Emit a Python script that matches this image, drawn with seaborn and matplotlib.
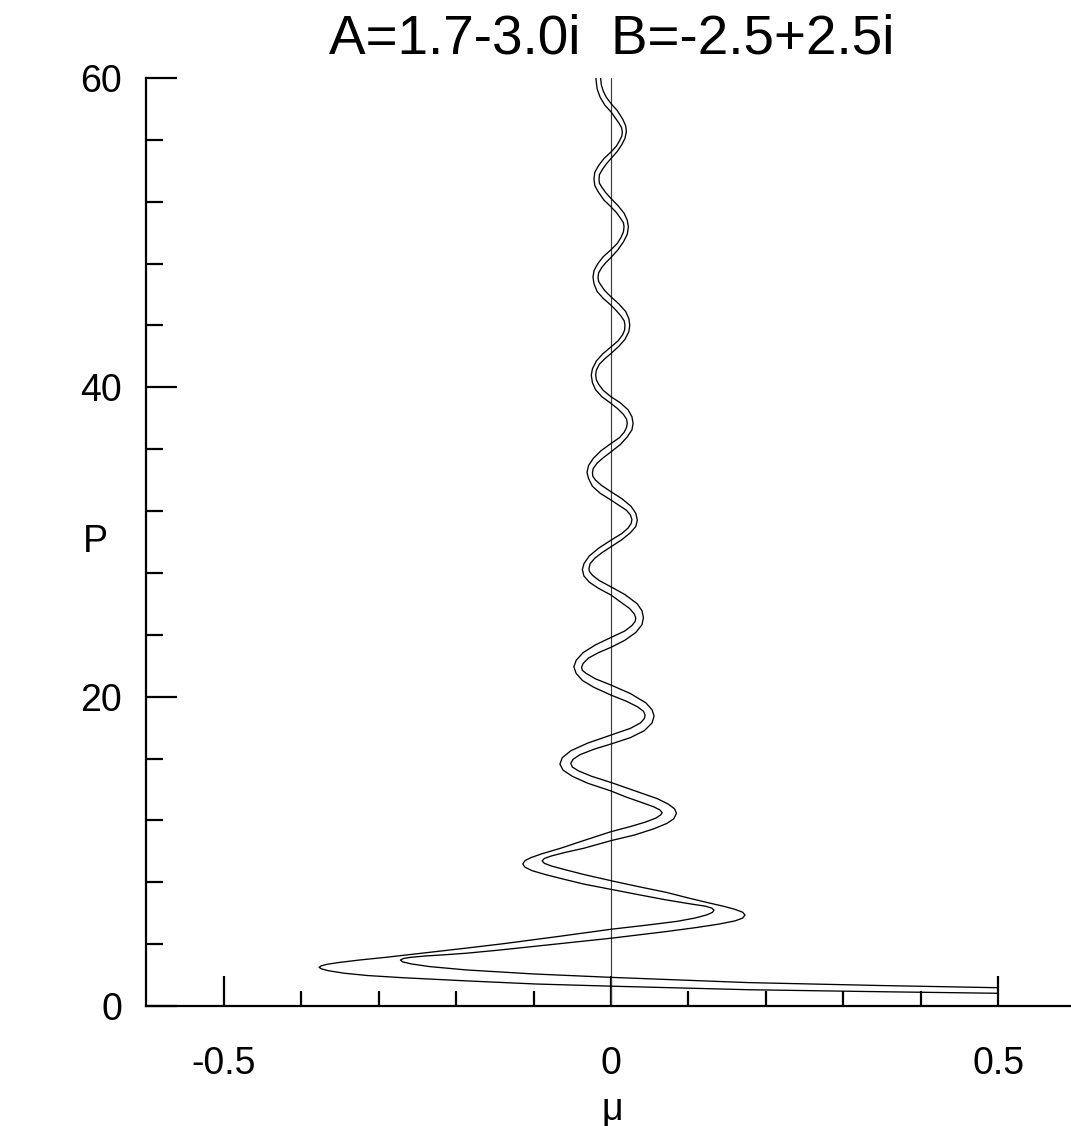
import matplotlib
matplotlib.use("Agg")
import matplotlib.pyplot as plt
import numpy as np
import pandas as pd
import seaborn as sns
from matplotlib.ticker import FixedLocator, FixedFormatter

# ---------------- data ----------------
title_text = "A=1.7-3.0i  B=-2.5+2.5i"
x_label = "\u03bc"
y_label = "P"

x_major = [-0.5, 0.0, 0.5]
x_major_labels = ["-0.5", "0", "0.5"]
x_minor = [-0.4, -0.3, -0.2, -0.1, 0.1, 0.2, 0.3, 0.4]
y_major = [0, 20, 40, 60]
y_major_labels = ["0", "20", "40", "60"]
y_minor = [4, 8, 12, 16, 24, 28, 32, 36, 44, 48, 52, 56]

# curve A
mu_a = [0.500, 0.350, 0.178, 0.000, -0.097, -0.186, -0.270, -0.315, -0.345, -0.365,
        -0.374, -0.377, -0.374, -0.366, -0.350, -0.325, -0.290, -0.250, -0.187, -0.140,
        -0.070, 0.000, 0.050, 0.085, 0.108, 0.123, 0.131, 0.133, 0.130, 0.122,
        0.100, 0.071, 0.035, 0.000, -0.035, -0.063, -0.085, -0.102, -0.111, -0.114,
        -0.111, -0.104, -0.090, -0.065, -0.035, 0.000, 0.025, 0.045, 0.058, 0.064,
        0.066, 0.063, 0.055, 0.040, 0.020, 0.000, -0.030, -0.050, -0.062, -0.066,
        -0.063, -0.052, -0.030, 0.000, 0.025, 0.038, 0.043, 0.044, 0.042, 0.034,
        0.020, 0.000, -0.022, -0.037, -0.045, -0.048, -0.045, -0.036, -0.020, 0.000,
        0.018, 0.027, 0.031, 0.032, 0.030, 0.024, 0.013, 0.000, -0.016, -0.028,
        -0.035, -0.037, -0.035, -0.028, -0.016, 0.000, 0.014, 0.022, 0.026, 0.027,
        0.025, 0.020, 0.011, 0.000, -0.014, -0.024, -0.029, -0.031, -0.029, -0.023,
        -0.013, 0.000, 0.011, 0.017, 0.020, 0.021, 0.020, 0.016, 0.009, 0.000,
        -0.012, -0.020, -0.024, -0.0255, -0.024, -0.019, -0.011, 0.000, 0.009, 0.015,
        0.0175, 0.018, 0.017, 0.013, 0.007, 0.000, -0.010, -0.018, -0.022, -0.0233,
        -0.022, -0.017, -0.010, 0.000, 0.008, 0.013, 0.016, 0.0168, 0.016, 0.012,
        0.007, 0.000, -0.009, -0.016, -0.021, -0.022, -0.021, -0.016, -0.009, 0.000,
        0.007, 0.011, 0.014, 0.0146, 0.0135, 0.010, 0.005, 0.000, -0.008, -0.014,
        -0.018, -0.0195]
p_a = [0.82, 0.92, 1.05, 1.28, 1.42, 1.62, 1.83, 1.97, 2.12, 2.28,
       2.40, 2.50, 2.60, 2.70, 2.82, 2.97, 3.15, 3.38, 3.74, 4.02,
       4.48, 4.96, 5.25, 5.47, 5.68, 5.88, 6.05, 6.20, 6.33, 6.45,
       6.62, 6.86, 7.20, 7.54, 7.88, 8.22, 8.50, 8.75, 8.97, 9.18,
       9.40, 9.58, 9.83, 10.20, 10.70, 11.27, 11.60, 11.90, 12.15, 12.35,
       12.50, 12.68, 12.88, 13.15, 13.50, 13.90, 14.40, 14.85, 15.25, 15.64,
       16.05, 16.50, 17.00, 17.52, 17.95, 18.30, 18.58, 18.81, 19.05, 19.35,
       19.70, 20.10, 20.60, 21.05, 21.50, 21.93, 22.35, 22.85, 23.35, 23.83,
       24.25, 24.60, 24.85, 25.08, 25.35, 25.70, 26.10, 26.57, 27.00, 27.40,
       27.80, 28.22, 28.60, 29.10, 29.60, 30.12, 30.55, 30.90, 31.20, 31.45,
       31.75, 32.05, 32.35, 32.71, 33.15, 33.60, 34.10, 34.50, 34.95, 35.40,
       35.90, 36.37, 36.75, 37.10, 37.40, 37.67, 37.95, 38.25, 38.60, 38.96,
       39.40, 39.85, 40.30, 40.79, 41.20, 41.70, 42.15, 42.62, 43.00, 43.40,
       43.70, 44.02, 44.30, 44.60, 44.95, 45.31, 45.75, 46.20, 46.70, 47.12,
       47.55, 48.00, 48.45, 48.90, 49.30, 49.70, 50.05, 50.38, 50.65, 50.95,
       51.30, 51.67, 52.10, 52.60, 53.05, 53.48, 53.90, 54.35, 54.80, 55.22,
       55.60, 55.95, 56.25, 56.52, 56.80, 57.10, 57.45, 57.81, 58.25, 58.75,
       59.30, 60.00]

# curve B
mu_b = [0.500, 0.350, 0.178, 0.000, -0.100, -0.187, -0.235, -0.258, -0.269, -0.272,
        -0.268, -0.258, -0.240, -0.215, -0.187, -0.145, -0.100, 0.000, 0.071, 0.110,
        0.140, 0.160, 0.170, 0.173, 0.170, 0.160, 0.145, 0.125, 0.100, 0.071,
        0.035, 0.000, -0.035, -0.060, -0.077, -0.086, -0.089, -0.086, -0.077, -0.060,
        -0.035, 0.000, 0.030, 0.055, 0.072, 0.081, 0.0845, 0.082, 0.074, 0.060,
        0.040, 0.020, 0.000, -0.025, -0.042, -0.050, -0.052, -0.049, -0.040, -0.022,
        0.000, 0.025, 0.043, 0.053, 0.0556, 0.053, 0.045, 0.025, 0.000, -0.020,
        -0.032, -0.037, -0.038, -0.036, -0.029, -0.016, 0.000, 0.018, 0.032, 0.040,
        0.0418, 0.040, 0.034, 0.018, 0.000, -0.015, -0.024, -0.028, -0.0285, -0.027,
        -0.021, -0.012, 0.000, 0.014, 0.025, 0.032, 0.034, 0.032, 0.026, 0.014,
        0.000, -0.012, -0.020, -0.0235, -0.024, -0.023, -0.018, -0.010, 0.000, 0.012,
        0.021, 0.027, 0.0285, 0.027, 0.022, 0.012, 0.000, -0.010, -0.016, -0.019,
        -0.0198, -0.019, -0.015, -0.008, 0.000, 0.010, 0.018, 0.023, 0.0242, 0.023,
        0.019, 0.010, 0.000, -0.008, -0.013, -0.016, -0.0168, -0.016, -0.012, -0.007,
        0.000, 0.009, 0.016, 0.021, 0.0224, 0.021, 0.017, 0.009, 0.000, -0.007,
        -0.012, -0.015, -0.0155, -0.015, -0.011, -0.006, 0.000, 0.008, 0.014, 0.018,
        0.0198, 0.019, 0.015, 0.008, 0.000, -0.006, -0.010, -0.0125, -0.0135]
p_b = [1.18, 1.32, 1.51, 1.85, 2.07, 2.33, 2.55, 2.72, 2.85, 2.97,
       3.07, 3.15, 3.23, 3.31, 3.41, 3.61, 3.85, 4.38, 4.81, 5.07,
       5.30, 5.50, 5.68, 5.88, 6.06, 6.25, 6.45, 6.68, 6.98, 7.35,
       7.72, 8.10, 8.50, 8.82, 9.05, 9.22, 9.38, 9.54, 9.70, 9.92,
       10.20, 10.69, 11.05, 11.45, 11.80, 12.10, 12.46, 12.75, 13.05, 13.40,
       13.75, 14.10, 14.45, 14.85, 15.20, 15.45, 15.69, 15.95, 16.25, 16.60,
       16.94, 17.35, 17.80, 18.30, 18.75, 19.15, 19.60, 20.20, 20.75, 21.15,
       21.50, 21.70, 21.90, 22.15, 22.50, 22.85, 23.19, 23.65, 24.15, 24.65,
       25.12, 25.55, 26.00, 26.60, 27.10, 27.50, 27.85, 28.10, 28.28, 28.60,
       28.95, 29.30, 29.69, 30.15, 30.60, 31.00, 31.42, 31.85, 32.30, 32.80,
       33.25, 33.65, 34.00, 34.25, 34.48, 34.75, 35.10, 35.45, 35.83, 36.30,
       36.80, 37.25, 37.67, 38.10, 38.55, 39.00, 39.39, 39.80, 40.20, 40.50,
       40.79, 41.10, 41.50, 41.85, 42.19, 42.65, 43.10, 43.60, 44.02, 44.45,
       44.90, 45.40, 45.85, 46.25, 46.60, 46.85, 47.10, 47.40, 47.75, 48.05,
       48.40, 48.90, 49.40, 49.90, 50.38, 50.80, 51.25, 51.75, 52.21, 52.60,
       52.95, 53.20, 53.45, 53.75, 54.10, 54.45, 54.80, 55.25, 55.70, 56.10,
       56.52, 56.90, 57.35, 57.90, 58.35, 58.75, 59.15, 59.55, 60.00]

# reference line mu = 0
zero_mu = [0.0, 0.0]
zero_p = [0.0, 60.0]

# ---------------- plotting ----------------
sns.set_theme(style="white")
plt.rcParams["font.family"] = ["Liberation Sans", "DejaVu Sans"]
plt.rcParams["axes.unicode_minus"] = False

df = pd.concat([
    pd.DataFrame({"mu": mu_a, "P": p_a, "curve": "A"}),
    pd.DataFrame({"mu": mu_b, "P": p_b, "curve": "B"}),
], ignore_index=True)
df_zero = pd.DataFrame({"mu": zero_mu, "P": zero_p})

fig = plt.figure(figsize=(10.71, 11.26), dpi=100)
ax = fig.add_axes([0.1367, 0.1066, 0.8633, 0.8241])

sns.lineplot(data=df_zero, x="mu", y="P", sort=False, estimator=None,
             color="#3a3a3a", linewidth=0.85, ax=ax)
sns.lineplot(data=df, x="mu", y="P", units="curve", estimator=None, sort=False,
             color="black", linewidth=0.95, ax=ax, legend=False)

ax.set_xlim(-0.6, 0.594)
ax.set_ylim(0, 60)

for s in ["top", "right"]:
    ax.spines[s].set_visible(False)
for s in ["left", "bottom"]:
    ax.spines[s].set_linewidth(1.6)
    ax.spines[s].set_color("black")

ax.xaxis.set_major_locator(FixedLocator(x_major))
ax.xaxis.set_major_formatter(FixedFormatter(x_major_labels))
ax.xaxis.set_minor_locator(FixedLocator(x_minor))
ax.yaxis.set_major_locator(FixedLocator(y_major))
ax.yaxis.set_major_formatter(FixedFormatter(y_major_labels))
ax.yaxis.set_minor_locator(FixedLocator(y_minor))

ax.tick_params(axis="both", which="both", direction="in", color="black",
               width=1.6, labelsize=27, labelcolor="black",
               bottom=True, left=True, top=False, right=False)
ax.tick_params(axis="x", which="major", length=21.6, pad=29)
ax.tick_params(axis="x", which="minor", length=10.8)
ax.tick_params(axis="y", which="major", length=22.3, pad=17.5)
ax.tick_params(axis="y", which="minor", length=12.0)
for t in (ax.xaxis.get_major_ticks() + ax.yaxis.get_major_ticks()
          + ax.xaxis.get_minor_ticks() + ax.yaxis.get_minor_ticks()):
    t.tick1line.set_clip_on(False)

ax.set_xlabel(x_label, fontsize=27, color="black")
ax.xaxis.set_label_coords(0.5036, -0.112)
ax.xaxis.label.set_va("center")
ax.set_ylabel(y_label, fontsize=27, rotation=0, color="black")
ax.yaxis.set_label_coords(-0.0556, 0.5)
ax.yaxis.label.set_va("center")
ax.yaxis.label.set_ha("center")

ax.text(0.5036, 1.041, title_text, transform=ax.transAxes, ha="center",
        va="center", fontsize=39.5, color="black")

ax.grid(False)
fig.savefig("out.png", dpi=100)
